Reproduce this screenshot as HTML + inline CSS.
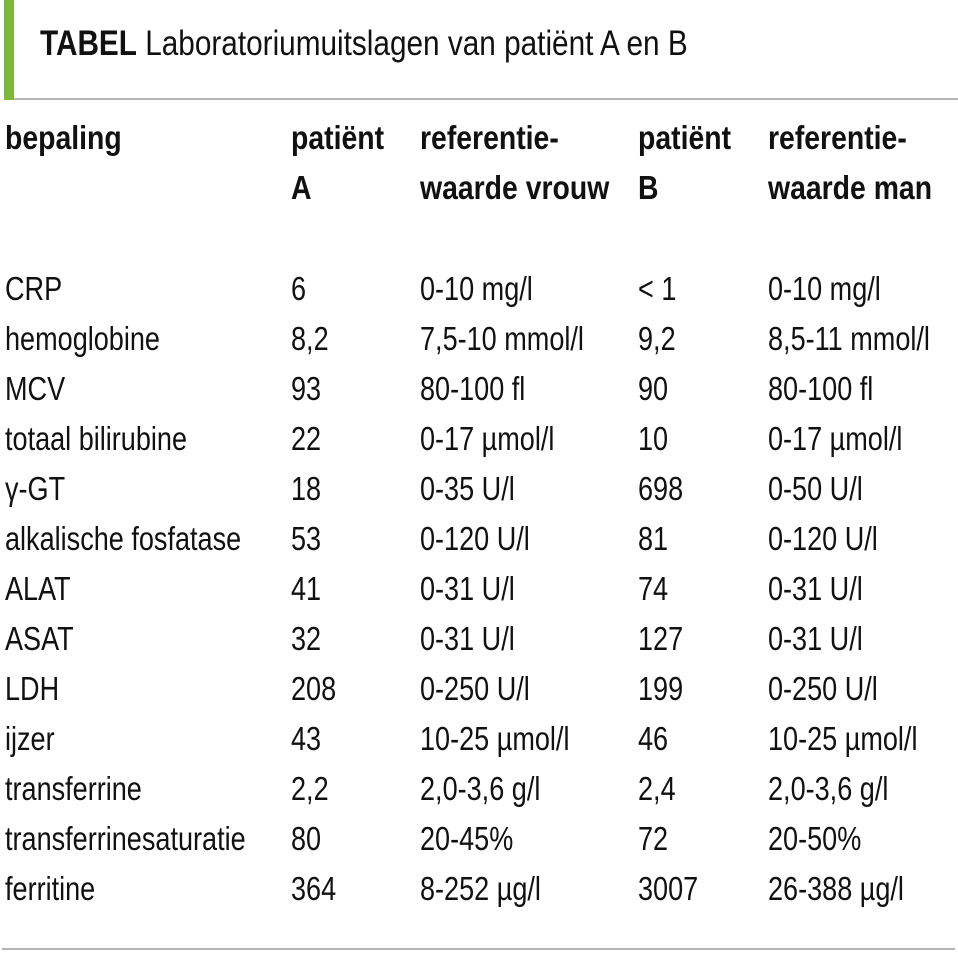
<!DOCTYPE html>
<html><head><meta charset="utf-8"><style>
html,body{margin:0;padding:0;background:#fff;width:958px;height:964px;overflow:hidden;position:relative}
.t{position:absolute;font-family:"Liberation Sans",sans-serif;font-size:33px;line-height:40px;color:#111;white-space:nowrap;transform:scaleX(0.82);transform-origin:0 0}
.b{font-weight:bold;transform:scaleX(0.86)}
</style></head><body>
<div style="position:absolute;left:4px;top:0;width:10px;height:100px;background:#7cb83a"></div>
<div style="position:absolute;left:14px;top:98px;width:944px;height:2px;background:#b5b5b5"></div>
<div style="position:absolute;left:2px;top:948px;width:953px;height:2px;background:#b5b5b5"></div>
<div class="t" style="left:40px;top:24px;font-size:35px;transform:scaleX(0.85)"><b>TABEL</b> Laboratoriumuitslagen van patiënt A en B</div>

<div class="t b" style="left:5px;top:118px">bepaling</div>
<div class="t b" style="left:291px;top:118px">patiënt</div>
<div class="t b" style="left:291px;top:168px">A</div>
<div class="t b" style="left:420px;top:118px">referentie-</div>
<div class="t b" style="left:420px;top:168px">waarde vrouw</div>
<div class="t b" style="left:638px;top:118px">patiënt</div>
<div class="t b" style="left:638px;top:168px">B</div>
<div class="t b" style="left:768px;top:118px">referentie-</div>
<div class="t b" style="left:768px;top:168px">waarde man</div>

<div id="rows"></div>
<script>
var d=[["CRP","6","0-10 mg/l","< 1","0-10 mg/l"],
["hemoglobine","8,2","7,5-10 mmol/l","9,2","8,5-11 mmol/l"],
["MCV","93","80-100 fl","90","80-100 fl"],
["totaal bilirubine","22","0-17 µmol/l","10","0-17 µmol/l"],
["γ-GT","18","0-35 U/l","698","0-50 U/l"],
["alkalische fosfatase","53","0-120 U/l","81","0-120 U/l"],
["ALAT","41","0-31 U/l","74","0-31 U/l"],
["ASAT","32","0-31 U/l","127","0-31 U/l"],
["LDH","208","0-250 U/l","199","0-250 U/l"],
["ijzer","43","10-25 µmol/l","46","10-25 µmol/l"],
["transferrine","2,2","2,0-3,6 g/l","2,4","2,0-3,6 g/l"],
["transferrinesaturatie","80","20-45%","72","20-50%"],
["ferritine","364","8-252 µg/l","3007","26-388 µg/l"]];
var xs=[5,291,420,638,768],h="";
d.forEach(function(r,i){r.forEach(function(c,j){
h+='<div class="t" style="left:'+xs[j]+'px;top:'+(269+i*50)+'px">'+c.replace("<","&lt;")+'</div>';});});
document.getElementById("rows").innerHTML=h;
</script>
</body></html>
